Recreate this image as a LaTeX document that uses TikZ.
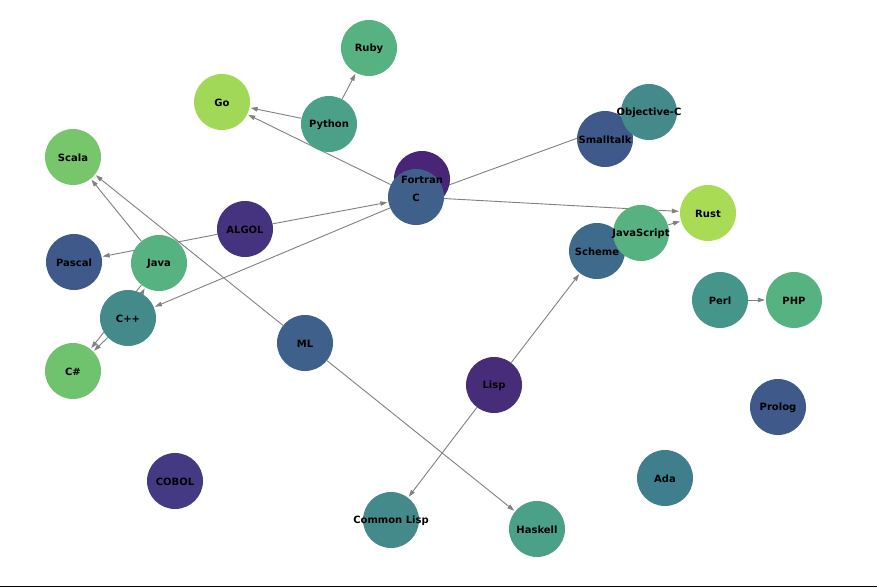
\documentclass[tikz,border=0pt]{standalone}
\usepackage{fontspec}
\setmainfont{DejaVu Sans}
\usetikzlibrary{arrows.meta}
\pgfdeclarelayer{paper}
\pgfdeclarelayer{bg}
\pgfsetlayers{paper,bg,main}
\definecolor{cA}{HTML}{482576}
\definecolor{cB}{HTML}{472C7A}
\definecolor{cCOB}{HTML}{443A83}
\definecolor{cALG}{HTML}{46337F}
\definecolor{cPas}{HTML}{3F5A8A}
\definecolor{cC}{HTML}{3E608A}
\definecolor{cSch}{HTML}{3E6B8C}
\definecolor{cAda}{HTML}{3F7F8D}
\definecolor{cObj}{HTML}{458A8B}
\definecolor{cPerl}{HTML}{45958A}
\definecolor{cPy}{HTML}{4AA187}
\definecolor{cJava}{HTML}{56B281}
\definecolor{cScala}{HTML}{78C66B}
\definecolor{cCs}{HTML}{6FC26E}
\definecolor{cGo}{HTML}{A2D858}
\definecolor{cRust}{HTML}{AADB54}
\definecolor{edgegray}{HTML}{808080}
\begin{document}
\begin{tikzpicture}[x=1pt,y=-1pt,
  lang/.style={circle,minimum size=56pt,inner sep=0pt,draw=none,fill=#1},
  lbl/.style={font=\fontsize{10}{12}\selectfont\bfseries,inner sep=0pt,text=black,yshift=-1.2pt},
  edge/.style={draw=edgegray,line width=0.9pt,-{Triangle[length=7pt,width=4.5pt]},shorten >=1pt}
]
\path[use as bounding box] (0,0) rectangle (877,588);
\begin{pgfonlayer}{paper}
\fill[white] (0,0) rectangle (877,588);
\draw[line width=1pt] (0,586.5) -- (877,586.5);
\end{pgfonlayer}

% circles
\node[lang=cGo]    (go)     at (222,102) {};
\node[lang=cJava]  (ruby)   at (369,48)  {};
\node[lang=cPy]    (python) at (329,124) {};
\node[lang=cScala] (scala)  at (73,157)  {};
\node[lang=cA]     (fortran) at (422,179) {};
\node[lang=cC]     (c)      at (416,197) {};
\node[lang=cALG]   (algol)  at (245,229) {};
\node[lang=cPas]   (pascal) at (74,262)  {};
\node[lang=cJava]  (java)   at (159,263) {};
\node[lang=cObj]   (cpp)    at (128,318) {};
\node[lang=cCs]    (cs)     at (73,371)  {};
\node[lang=cC]     (ml)     at (305,343) {};
\node[lang=cPas]   (smalltalk) at (605,139) {};
\node[lang=cObj]   (objc)   at (649,112) {};
\node[lang=cRust]  (rust)   at (708,213) {};
\node[lang=cSch]   (scheme) at (597,251) {};
\node[lang=cJava]  (js)     at (641,233) {};
\node[lang=cPerl]  (perl)   at (720,300) {};
\node[lang=cJava]  (php)    at (794,300) {};
\node[lang=cB]     (lisp)   at (494,385) {};
\node[lang=cPas]   (prolog) at (778,407) {};
\node[lang=cAda]   (ada)    at (665,478) {};
\node[lang=cCOB]   (cobol)  at (175,481) {};
\node[lang=cObj]   (clisp)  at (391,520) {};
\node[lang=cPy]    (haskell) at (537,529) {};

% edges
\begin{pgfonlayer}{bg}
\draw[edge] (c) -- (go);
\draw[edge] (python) -- (go);
\draw[edge] (python) -- (ruby);
\draw[edge] (algol) -- (c);
\draw[edge] (algol) -- (pascal);
\draw[edge] (c) -- (cpp);
\draw[edge] (c) -- (objc);
\draw[edge] (c) -- (rust);
\draw[edge] (js) -- (rust);
\draw[edge] (cpp) -- (java);
\draw[edge] (cpp) -- (cs);
\draw[edge] (java) -- (cs);
\draw[edge] (java) -- (scala);
\draw[edge] (ml) -- (scala);
\draw[edge] (ml) -- (haskell);
\draw[edge] (lisp) -- (scheme);
\draw[edge] (lisp) -- (clisp);
\draw[edge] (perl) -- (php);
\end{pgfonlayer}

% labels
\node[lbl] (lgo) at (go) {Go};
\node[lbl] (lruby) at (ruby) {Ruby};
\node[lbl] (lpython) at (python) {Python};
\node[lbl] (lscala) at (scala) {Scala};
\node[lbl] (lfortran) at (fortran) {Fortran};
\node[lbl] (lc) at (c) {C};
\node[lbl] (lalgol) at (algol) {ALGOL};
\node[lbl] (lpascal) at (pascal) {Pascal};
\node[lbl] (ljava) at (java) {Java};
\node[lbl] (lcpp) at (cpp) {C++};
\node[lbl] (lcs) at (cs) {C\#};
\node[lbl] (lml) at (ml) {ML};
\node[lbl] (lsmalltalk) at (smalltalk) {Smalltalk};
\node[lbl] (lobjc) at (objc) {Objective-C};
\node[lbl] (lrust) at (rust) {Rust};
\node[lbl] (lscheme) at (scheme) {Scheme};
\node[lbl] (ljs) at (js) {JavaScript};
\node[lbl] (lperl) at (perl) {Perl};
\node[lbl] (lphp) at (php) {PHP};
\node[lbl] (llisp) at (lisp) {Lisp};
\node[lbl] (lprolog) at (prolog) {Prolog};
\node[lbl] (lada) at (ada) {Ada};
\node[lbl] (lcobol) at (cobol) {COBOL};
\node[lbl] (lclisp) at (clisp) {Common Lisp};
\node[lbl] (lhaskell) at (haskell) {Haskell};
\end{tikzpicture}
\end{document}
